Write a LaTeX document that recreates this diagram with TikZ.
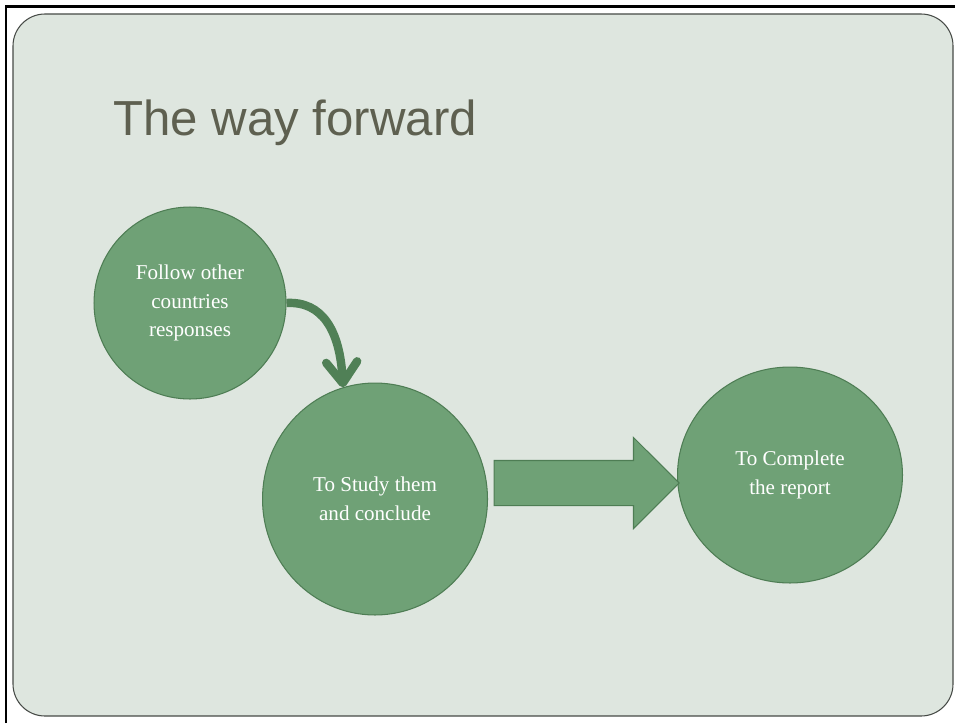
\documentclass[tikz,border=0pt]{standalone}
\usepackage{fontspec}
\setmainfont{Liberation Serif}
\newfontfamily\titlefont{Liberation Sans}
\usetikzlibrary{arrows.meta,shapes.geometric,shapes.arrows}
\definecolor{panelbg}{RGB}{222,230,223}
\definecolor{panelrim}{RGB}{70,74,70}
\definecolor{ballfill}{RGB}{111,161,118}
\definecolor{ballrim}{RGB}{78,125,84}
\definecolor{bendcol}{RGB}{80,128,86}
\definecolor{titlecol}{RGB}{94,96,80}

\begin{document}
\begin{tikzpicture}[x=0.02cm,y=-0.02cm,
  ball/.style={ellipse,fill=ballfill,draw=ballrim,line width=0.6pt,inner sep=0pt,
    text=white,align=center,font=\fontsize{12}{16.4}\selectfont},
  bigarrow/.style={single arrow,fill=ballfill,draw=ballrim,line width=0.6pt,
    minimum height=3.7cm,inner xsep=0pt,inner ysep=0.44cm,outer sep=0pt,
    single arrow head extend=0.46cm,single arrow tip angle=90},
  curvearrow/.style={draw=bendcol,line width=4.8pt,
    -{Straight Barb[round,length=0.42cm,width=0.62cm]}}]
\useasboundingbox (0,0) rectangle (955,723);
\draw[line width=0.06cm] (6,723) -- (6,7) -- (955,7);
\draw[fill=panelbg,draw=panelrim,line width=0.6pt,rounded corners=0.64cm]
  (13,14) rectangle (953,716);
\node[anchor=base west,inner sep=0pt,text=titlecol,
  font=\titlefont\fontsize{28}{30}\selectfont] (title) at (113,135) {The way forward};
\node[ball,minimum width=3.84cm,minimum height=3.84cm] (follow) at (190,303)
  {Follow other\\countries\\responses};
\node[ball,minimum width=4.5cm,minimum height=4.64cm] (study) at (375,499)
  {To Study them\\and conclude};
\node[ball,minimum width=4.5cm,minimum height=4.32cm] (report) at (790,475)
  {To Complete\\the report};
\node[bigarrow,anchor=tip] (go) at (679,483) {};
\draw[curvearrow] (follow.east) .. controls (322,301) and (340,330) .. (study.106);
\end{tikzpicture}
\end{document}
